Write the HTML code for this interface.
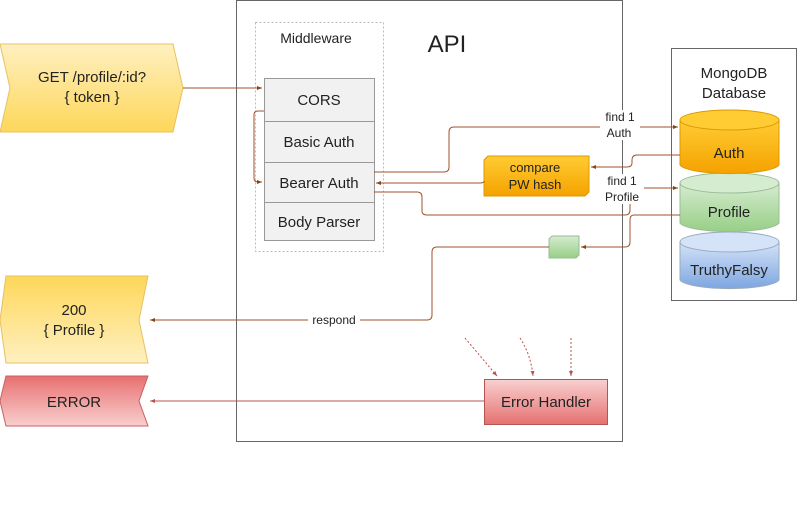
<!DOCTYPE html>
<html><head><meta charset="utf-8"><style>body{margin:0;background:#fff}svg{display:block}text{font-family:"Liberation Sans",sans-serif;fill:#222}</style></head><body>
<svg width="800" height="512" viewBox="0 0 800 512" xmlns="http://www.w3.org/2000/svg">
<defs>
<linearGradient id="y" x1="0" y1="0" x2="0" y2="1"><stop offset="0" stop-color="#fdd75a"/><stop offset="1" stop-color="#fff0c0"/></linearGradient>
<linearGradient id="y2" x1="0" y1="0" x2="0" y2="1"><stop offset="0" stop-color="#fff0c0"/><stop offset="1" stop-color="#fdd75a"/></linearGradient>
<linearGradient id="r" x1="0" y1="0" x2="0" y2="1"><stop offset="0" stop-color="#e87070"/><stop offset="1" stop-color="#f9cfcf"/></linearGradient>
<linearGradient id="rh" x1="0" y1="0" x2="0" y2="1"><stop offset="0" stop-color="#f8d0d0"/><stop offset="1" stop-color="#e67070"/></linearGradient>
<linearGradient id="o" x1="0" y1="0" x2="0" y2="1"><stop offset="0" stop-color="#ffcc33"/><stop offset="1" stop-color="#f5a200"/></linearGradient>
<linearGradient id="g" x1="0" y1="0" x2="0" y2="1"><stop offset="0" stop-color="#d6ecd0"/><stop offset="1" stop-color="#97cf86"/></linearGradient>
<linearGradient id="b" x1="0" y1="0" x2="0" y2="1"><stop offset="0" stop-color="#d4e3f8"/><stop offset="1" stop-color="#7ea6e0"/></linearGradient>
<marker id="a" markerWidth="6" markerHeight="6" refX="5" refY="3" orient="auto"><path d="M0,1 L5,3 L0,5z" fill="#8b4513"/></marker>
<marker id="ar" markerWidth="6" markerHeight="6" refX="5" refY="3" orient="auto"><path d="M0,1 L5,3 L0,5z" fill="#b85450"/></marker>
</defs>
<rect x="236.5" y="0.5" width="386" height="441" fill="none" stroke="#666"/>
<text x="447" y="52" font-size="24" text-anchor="middle">API</text>
<rect x="255.5" y="22.5" width="128" height="229" fill="none" stroke="#bbb" stroke-dasharray="2,2"/>
<text x="316" y="43" font-size="14" text-anchor="middle">Middleware</text>
<g stroke="#999" fill="#f1f1f1"><rect x="264.5" y="78.5" width="110" height="43"/><rect x="264.5" y="121.5" width="110" height="41"/><rect x="264.5" y="162.5" width="110" height="40"/><rect x="264.5" y="202.5" width="110" height="38"/></g>
<g font-size="15" text-anchor="middle"><text x="319" y="105">CORS</text><text x="319" y="147">Basic Auth</text><text x="319" y="188">Bearer Auth</text><text x="319" y="227">Body Parser</text></g>
<path d="M0,44 L173,44 L183,88 L173,132 L0,132 L10,88z" fill="url(#y2)" stroke="#e8c060"/>
<text x="92" y="82" font-size="15" text-anchor="middle">GET /profile/:id?</text><text x="92" y="102" font-size="15" text-anchor="middle">{ token }</text>
<path d="M6,276 L148,276 L139,320 L148,363 L6,363 L0,320z" fill="url(#y)" stroke="#e8c060"/>
<text x="74" y="315" font-size="15" text-anchor="middle">200</text><text x="74" y="335" font-size="15" text-anchor="middle">{ Profile }</text>
<path d="M6,376 L148,376 L139,401 L148,426 L6,426 L0,401z" fill="url(#r)" stroke="#c86060"/>
<text x="74" y="407" font-size="15" text-anchor="middle">ERROR</text>
<rect x="671.5" y="48.5" width="125" height="252" fill="none" stroke="#666"/>
<text x="734" y="78" font-size="15" text-anchor="middle">MongoDB</text><text x="734" y="98" font-size="15" text-anchor="middle">Database</text>
<path d="M680,242 L680,280 A50,10 0 0 0 779,280 L779,242z" fill="url(#b)" stroke="#9ab"/><ellipse cx="729.5" cy="242" rx="49.5" ry="10" fill="#d4e3f8" stroke="#9ab"/>
<text x="729" y="275" font-size="15" text-anchor="middle">TruthyFalsy</text>
<path d="M680,183 L680,223 A50,10 0 0 0 779,223 L779,183z" fill="url(#g)" stroke="#9b9"/><ellipse cx="729.5" cy="183" rx="49.5" ry="10" fill="#d6ecd0" stroke="#9b9"/>
<text x="729" y="217" font-size="15" text-anchor="middle">Profile</text>
<path d="M680,120 L680,165 A50,10 0 0 0 779,165 L779,120z" fill="url(#o)" stroke="#d90"/><ellipse cx="729.5" cy="120" rx="49.5" ry="10" fill="#ffcc33" stroke="#d90"/>
<text x="729" y="158" font-size="15" text-anchor="middle">Auth</text>
<path d="M484,160 L488,156 L589,156 L589,192 L585,196 L484,196z" fill="url(#o)" stroke="#d90"/>
<text x="535" y="172" font-size="13" text-anchor="middle">compare</text><text x="535" y="189" font-size="13" text-anchor="middle">PW hash</text>
<path d="M549,239 L552,236 L579,236 L579,255 L576,258 L549,258z" fill="url(#g)" stroke="#9b9"/>
<rect x="484.5" y="379.5" width="123" height="45" fill="url(#rh)" stroke="#b85450"/>
<text x="546" y="407" font-size="15" text-anchor="middle">Error Handler</text>
<g fill="none" stroke="#a0522d" stroke-width="1">
<path d="M183,88 L262,88" marker-end="url(#a)"/>
<path d="M264,111 L258,111 Q254,111 254,115 L254,178 Q254,182 258,182 L262,182" marker-end="url(#a)"/>
<path d="M374,172 L444,172 Q449,172 449,167 L449,132 Q449,127 454,127 L678,127" marker-end="url(#a)"/>
<path d="M680,155 L637,155 Q632,155 632,160 L632,163 Q632,167 627,167 L591,167" marker-end="url(#a)"/>
<path d="M484,181 Q484,183 480,183 L376,183" marker-end="url(#a)"/>
<path d="M374,192 L417,192 Q422,192 422,197 L422,211 Q422,215 427,215 L625,215 Q630,215 630,210 L630,193 Q630,188 635,188 L678,188" marker-end="url(#a)"/>
<path d="M680,215 L634,215 Q630,215 630,220 L630,242 Q630,247 625,247 L581,247" marker-end="url(#a)"/>
<path d="M549,247 L437,247 Q432,247 432,252 L432,315 Q432,320 427,320 L150,320" marker-end="url(#a)"/>
</g>
<path d="M484,401 L150,401" stroke="#b85450" fill="none" marker-end="url(#ar)"/>
<g stroke="#b85450" stroke-dasharray="2,2" fill="none"><path d="M465,338 L497,376" marker-end="url(#ar)"/><path d="M520,338 Q531,355 533,376" marker-end="url(#ar)"/><path d="M571,338 L571,376" marker-end="url(#ar)"/></g>
<rect x="308" y="313" width="52" height="14" fill="#fff"/><text x="334" y="324" font-size="12" text-anchor="middle">respond</text>
<rect x="600" y="110" width="40" height="30" fill="#fff"/><text x="620" y="121" font-size="12" text-anchor="middle">find 1</text><text x="619" y="137" font-size="12" text-anchor="middle">Auth</text>
<rect x="600" y="174" width="44" height="30" fill="#fff"/><text x="622" y="185" font-size="12" text-anchor="middle">find 1</text><text x="622" y="201" font-size="12" text-anchor="middle">Profile</text>
</svg>
</body></html>
